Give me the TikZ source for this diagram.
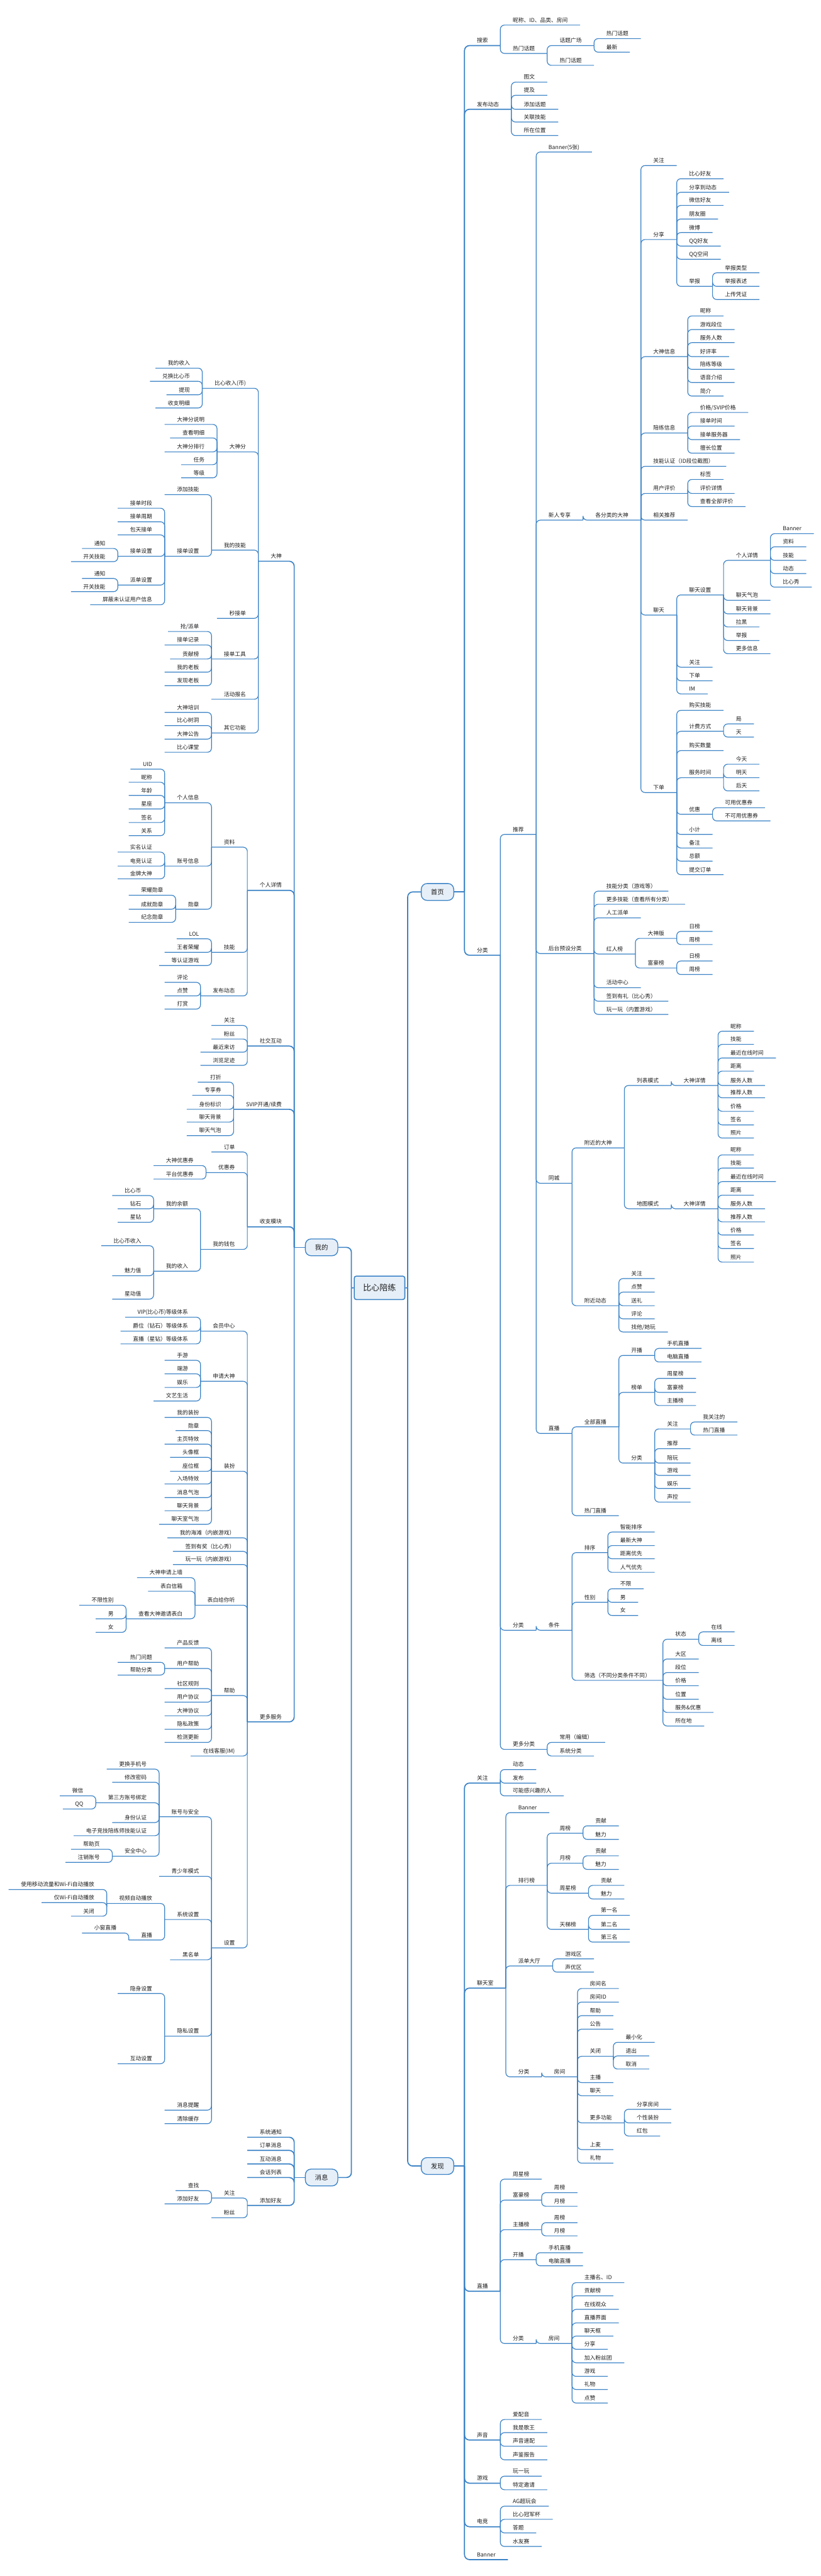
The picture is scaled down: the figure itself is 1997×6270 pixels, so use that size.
\documentclass[tikz,border=0pt]{standalone}
\usepackage{fontspec}
\setmainfont{Noto Sans CJK SC}
\definecolor{lineblue}{RGB}{58,130,198}
\definecolor{boxfill}{RGB}{230,239,248}
\definecolor{txt}{RGB}{30,30,30}
\tikzset{
  tn/.style={inner xsep=30pt, inner ysep=4pt, text height=10pt, text depth=3pt, font=\fontsize{13.4}{15}\selectfont, text=txt},
  cn/.style={draw=lineblue, line width=1.8pt, rounded corners=10pt},
  cn1/.style={draw=lineblue, line width=2.6pt, rounded corners=12pt},
  box/.style={draw=lineblue, fill=boxfill, line width=2pt, rounded corners=14pt, minimum width=79pt, minimum height=41pt, font=\fontsize{16}{18}\selectfont, text=txt},
  rootbox/.style={draw=lineblue, fill=boxfill, line width=2.4pt, rounded corners=5pt, minimum width=123pt, minimum height=57pt, font=\fontsize{20}{22}\selectfont, text=txt},
  hub/.style={inner sep=0pt, minimum size=0pt}
}
\newcommand\addR[5][cn]{\node[tn,anchor=south west] (#2) at (#3.south east |- 0,#4) {#5};\draw[#1] (#3.south east) |- (#2.south east);}
\newcommand\addL[5][cn]{\node[tn,anchor=south east] (#2) at (#3.south west |- 0,#4) {#5};\draw[#1] (#3.south west) |- (#2.south west);}
\begin{document}
\begin{tikzpicture}[x=1pt,y=-1pt]
\fill[white] (0,0) rectangle (1997,6270);
\useasboundingbox (0,0) rectangle (1997,6270);
% ---------- root ----------
\node[rootbox] (root) at (923.5,3134.5) {比心陪练};
\node[box] (shouye) at (1064.5,2171) {首页};
\node[box] (faxian) at (1064.5,5272) {发现};
\node[box] (wode) at (782.5,3036) {我的};
\node[box] (xiaoxi) at (782.5,5300) {消息};
\node[hub] (rtr) at (992,3134.5) {};
\node[hub] (rtl) at (855,3134.5) {};
\draw[cn1] (root.east) -- (rtr) |- (shouye.west);
\draw[cn1] (rtr) |- (faxian.west);
\draw[cn1] (root.west) -- (rtl) |- (wode.east);
\draw[cn1] (rtl) |- (xiaoxi.east);
% ---------- 首页 ----------
\node[hub] (syt) at (1130,2171) {};
\draw[cn1] (shouye.east) -- (syt);
\addR[cn1]{a1}{syt}{111}{搜索}
\addR{a11}{a1}{61}{昵称、ID、品类、房间}
\addR{a12}{a1}{130}{热门话题}
\addR{a121}{a12}{111}{话题广场}
\addR{a1211}{a121}{94}{热门话题}
\addR{a1212}{a121}{127}{最新}
\addR{a122}{a12}{159}{热门话题}
\addR[cn1]{a2}{syt}{266}{发布动态}
\addR{a21}{a2}{200}{图文}
\addR{a22}{a2}{232}{提及}
\addR{a23}{a2}{266}{添加话题}
\addR{a24}{a2}{297}{关联技能}
\addR{a25}{a2}{330}{所在位置}
\addR[cn1]{a3}{syt}{2325}{分类}
\addR{b1}{a3}{2031}{推荐}
\addR{b11}{b1}{370}{Banner(5张)}
\addR{b12}{b1}{1266}{新人专享}
\addR{c}{b12}{1266}{各分类的大神}
\addR{c1}{c}{403}{关注}
\addR{c2}{c}{583}{分享}
\addR{c21}{c2}{435}{比心好友}
\addR{c22}{c2}{468}{分享到动态}
\addR{c23}{c2}{500}{微信好友}
\addR{c24}{c2}{533}{朋友圈}
\addR{c25}{c2}{566}{微博}
\addR{c26}{c2}{599}{QQ好友}
\addR{c27}{c2}{631}{QQ空间}
\addR{c28}{c2}{697}{举报}
\addR{c281}{c28}{664}{举报类型}
\addR{c282}{c28}{697}{举报表述}
\addR{c283}{c28}{729}{上传凭证}
\addR{c3}{c}{868}{大神信息}
\addR{c31}{c3}{769}{昵称}
\addR{c32}{c3}{802}{游戏段位}
\addR{c33}{c3}{834}{服务人数}
\addR{c34}{c3}{868}{好评率}
\addR{c35}{c3}{899}{陪练等级}
\addR{c36}{c3}{931}{语音介绍}
\addR{c37}{c3}{964}{简介}
\addR{c4}{c}{1054}{陪练信息}
\addR{c41}{c4}{1004}{价格/SVIP价格}
\addR{c42}{c4}{1037}{接单时间}
\addR{c43}{c4}{1070}{接单服务器}
\addR{c44}{c4}{1103}{擅长位置}
\addR{c5}{c}{1135}{技能认证（ID段位截图）}
\addR{c6}{c}{1201}{用户评价}
\addR{c61}{c6}{1167}{标签}
\addR{c62}{c6}{1201}{评价详情}
\addR{c63}{c6}{1233}{查看全部评价}
\addR{c7}{c}{1266}{相关推荐}
\addR{c8}{c}{1497}{聊天}
\addR{c81}{c8}{1448}{聊天设置}
\addR{c811}{c81}{1364}{个人详情}
\addR{c8111}{c811}{1299}{Banner}
\addR{c8112}{c811}{1331}{资料}
\addR{c8113}{c811}{1364}{技能}
\addR{c8114}{c811}{1396}{动态}
\addR{c8115}{c811}{1429}{比心秀}
\addR{c812}{c81}{1461}{聊天气泡}
\addR{c813}{c81}{1494}{聊天背景}
\addR{c814}{c81}{1526}{拉黑}
\addR{c815}{c81}{1559}{举报}
\addR{c816}{c81}{1591}{更多信息}
\addR{c82}{c8}{1624}{关注}
\addR{c83}{c8}{1657}{下单}
\addR{c84}{c8}{1689}{IM}
\addR{c9}{c}{1929}{下单}
\addR{c91}{c9}{1729}{购买技能}
\addR{c92}{c9}{1780}{计费方式}
\addR{c921}{c92}{1762}{局}
\addR{c922}{c92}{1794}{天}
\addR{c93}{c9}{1827}{购买数量}
\addR{c94}{c9}{1893}{服务时间}
\addR{c941}{c94}{1860}{今天}
\addR{c942}{c94}{1893}{明天}
\addR{c943}{c94}{1925}{后天}
\addR{c95}{c9}{1982}{优惠}
\addR{c951}{c95}{1966}{可用优惠券}
\addR{c952}{c95}{1998}{不可用优惠券}
\addR{c96}{c9}{2031}{小计}
\addR{c97}{c9}{2064}{备注}
\addR{c98}{c9}{2096}{总额}
\addR{c99}{c9}{2129}{提交订单}
\addR{b13}{b1}{2321}{后台预设分类}
\addR{e1}{b13}{2169}{技能分类（游戏等）}
\addR{e2}{b13}{2201}{更多技能（查看所有分类）}
\addR{e3}{b13}{2234}{人工派单}
\addR{e4}{b13}{2322}{红人榜}
\addR{e41}{e4}{2284}{大神版}
\addR{e411}{e41}{2267}{日榜}
\addR{e412}{e41}{2299}{周榜}
\addR{e42}{e4}{2356}{富豪榜}
\addR{e421}{e42}{2339}{日榜}
\addR{e422}{e42}{2372}{周榜}
\addR{e5}{b13}{2404}{活动中心}
\addR{e6}{b13}{2437}{签到有礼（比心秀）}
\addR{e7}{b13}{2469}{玩一玩（内置游戏）}
\addR{b14}{b1}{2880}{同城}
\addR{f1}{b14}{2794}{附近的大神}
\addR{f11}{f1}{2642}{列表模式}
\addR{f111}{f11}{2642}{大神详情}
\addR{f1111}{f111}{2510}{昵称}
\addR{f1112}{f111}{2542}{技能}
\addR{f1113}{f111}{2575}{最近在线时间}
\addR{f1114}{f111}{2607}{距离}
\addR{f1115}{f111}{2642}{服务人数}
\addR{f1116}{f111}{2672}{推荐人数}
\addR{f1117}{f111}{2705}{价格}
\addR{f1118}{f111}{2738}{签名}
\addR{f1119}{f111}{2770}{照片}
\addR{f12}{f1}{2942}{地图模式}
\addR{f121}{f12}{2942}{大神详情}
\addR{f1211}{f121}{2811}{昵称}
\addR{f1212}{f121}{2843}{技能}
\addR{f1213}{f121}{2876}{最近在线时间}
\addR{f1214}{f121}{2909}{距离}
\addR{f1215}{f121}{2942}{服务人数}
\addR{f1216}{f121}{2974}{推荐人数}
\addR{f1217}{f121}{3006}{价格}
\addR{f1218}{f121}{3039}{签名}
\addR{f1219}{f121}{3072}{照片}
\addR{f2}{b14}{3178}{附近动态}
\addR{f21}{f2}{3112}{关注}
\addR{f22}{f2}{3145}{点赞}
\addR{f23}{f2}{3178}{送礼}
\addR{f24}{f2}{3210}{评论}
\addR{f25}{f2}{3242}{找他/她玩}
\addR{b15}{b1}{3489}{直播}
\addR{g1}{b15}{3473}{全部直播}
\addR{g11}{g1}{3299}{开播}
\addR{g111}{g11}{3282}{手机直播}
\addR{g112}{g11}{3315}{电脑直播}
\addR{g12}{g1}{3389}{榜单}
\addR{g121}{g12}{3355}{周星榜}
\addR{g122}{g12}{3389}{富豪榜}
\addR{g123}{g12}{3421}{主播榜}
\addR{g13}{g1}{3561}{分类}
\addR{g131}{g13}{3478}{关注}
\addR{g1311}{g131}{3461}{我关注的}
\addR{g1312}{g131}{3493}{热门直播}
\addR{g132}{g13}{3526}{推荐}
\addR{g133}{g13}{3561}{陪玩}
\addR{g134}{g13}{3591}{游戏}
\addR{g135}{g13}{3623}{娱乐}
\addR{g136}{g13}{3656}{声控}
\addR{g2}{b15}{3689}{热门直播}
\addR{b2}{a3}{3968}{分类}
\addR{b21}{b2}{3968}{条件}
\addR{h1}{b21}{3779}{排序}
\addR{h11}{h1}{3729}{智能排序}
\addR{h12}{h1}{3762}{最新大神}
\addR{h13}{h1}{3794}{距离优先}
\addR{h14}{h1}{3827}{人气优先}
\addR{h2}{b21}{3900}{性别}
\addR{h21}{h2}{3867}{不限}
\addR{h22}{h2}{3900}{男}
\addR{h23}{h2}{3932}{女}
\addR{h3}{b21}{4090}{筛选（不同分类条件不同）}
\addR{h31}{h3}{3990}{状态}
\addR{h311}{h31}{3972}{在线}
\addR{h312}{h31}{4005}{离线}
\addR{h32}{h3}{4038}{大区}
\addR{h33}{h3}{4071}{段位}
\addR{h34}{h3}{4103}{价格}
\addR{h35}{h3}{4136}{位置}
\addR{h36}{h3}{4168}{服务\&优惠}
\addR{h37}{h3}{4201}{所在地}
\addR{b3}{a3}{4258}{更多分类}
\addR{b31}{b3}{4241}{常用（编辑）}
\addR{b32}{b3}{4274}{系统分类}
% ---------- 发现 ----------
\node[hub] (fxt) at (1130,5272) {};
\draw[cn1] (faxian.east) -- (fxt);
\addR[cn1]{k1}{fxt}{4340}{关注}
\addR{k11}{k1}{4307}{动态}
\addR{k12}{k1}{4340}{发布}
\addR{k13}{k1}{4371}{可能感兴趣的人}
\addR[cn1]{k2}{fxt}{4839}{聊天室}
\addR{k21}{k2}{4412}{Banner}
\addR{k22}{k2}{4589}{排行榜}
\addR{k221}{k22}{4462}{周榜}
\addR{k2211}{k221}{4444}{贡献}
\addR{k2212}{k221}{4477}{魅力}
\addR{k222}{k22}{4535}{月榜}
\addR{k2221}{k222}{4517}{贡献}
\addR{k2222}{k222}{4550}{魅力}
\addR{k223}{k22}{4608}{周星榜}
\addR{k2231}{k223}{4589}{贡献}
\addR{k2232}{k223}{4622}{魅力}
\addR{k224}{k22}{4696}{天梯榜}
\addR{k2241}{k224}{4662}{第一名}
\addR{k2242}{k224}{4696}{第二名}
\addR{k2243}{k224}{4727}{第三名}
\addR{k23}{k2}{4785}{派单大厅}
\addR{k231}{k23}{4768}{游戏区}
\addR{k232}{k23}{4800}{声优区}
\addR{k24}{k2}{5055}{分类}
\addR{k241}{k24}{5055}{房间}
\addR{k2411}{k241}{4840}{房间名}
\addR{k2412}{k241}{4873}{房间ID}
\addR{k2413}{k241}{4906}{帮助}
\addR{k2414}{k241}{4939}{公告}
\addR{k2415}{k241}{5005}{关闭}
\addR{k24151}{k2415}{4971}{最小化}
\addR{k24152}{k2415}{5004}{退出}
\addR{k24153}{k2415}{5036}{取消}
\addR{k2416}{k241}{5069}{主播}
\addR{k2417}{k241}{5101}{聊天}
\addR{k2418}{k241}{5167}{更多功能}
\addR{k24181}{k2418}{5134}{分享房间}
\addR{k24182}{k2418}{5167}{个性装扮}
\addR{k24183}{k2418}{5199}{红包}
\addR{k2419}{k241}{5232}{上麦}
\addR{k2410}{k241}{5265}{礼物}
\addR[cn1]{k3}{fxt}{5577}{直播}
\addR{k31}{k3}{5304}{周星榜}
\addR{k32}{k3}{5355}{富豪榜}
\addR{k321}{k32}{5337}{周榜}
\addR{k322}{k32}{5370}{月榜}
\addR{k33}{k3}{5427}{主播榜}
\addR{k331}{k33}{5410}{周榜}
\addR{k332}{k33}{5442}{月榜}
\addR{k34}{k3}{5500}{开播}
\addR{k341}{k34}{5483}{手机直播}
\addR{k342}{k34}{5515}{电脑直播}
\addR{k35}{k3}{5704}{分类}
\addR{k351}{k35}{5704}{房间}
\addR{k3511}{k351}{5556}{主播名、ID}
\addR{k3512}{k351}{5588}{贡献榜}
\addR{k3513}{k351}{5621}{在线观众}
\addR{k3514}{k351}{5654}{直播界面}
\addR{k3515}{k351}{5686}{聊天框}
\addR{k3516}{k351}{5718}{分享}
\addR{k3517}{k351}{5751}{加入粉丝团}
\addR{k3518}{k351}{5784}{游戏}
\addR{k3519}{k351}{5816}{礼物}
\addR{k3510}{k351}{5849}{点赞}
\addR[cn1]{k4}{fxt}{5939}{声音}
\addR{k41}{k4}{5889}{爱配音}
\addR{k42}{k4}{5921}{我是歌王}
\addR{k43}{k4}{5954}{声音速配}
\addR{k44}{k4}{5987}{声鉴报告}
\addR[cn1]{k5}{fxt}{6044}{游戏}
\addR{k51}{k5}{6027}{玩一玩}
\addR{k52}{k5}{6060}{特定邀请}
\addR[cn1]{k6}{fxt}{6150}{电竞}
\addR{k61}{k6}{6100}{AG超玩会}
\addR{k62}{k6}{6132}{比心冠军杯}
\addR{k63}{k6}{6165}{答题}
\addR{k64}{k6}{6198}{水友赛}
\addR[cn1]{k7}{fxt}{6230}{Banner}
% ---------- 我的 ----------
\node[hub] (wdt) at (716,3036) {};
\draw[cn1] (wode.west) -- (wdt);
\addL[cn1]{m1}{wdt}{1366}{大神}
\addL{m11}{m1}{945}{比心收入(币)}
\addL{m111}{m11}{896}{我的收入}
\addL{m112}{m11}{928}{兑换比心币}
\addL{m113}{m11}{961}{提现}
\addL{m114}{m11}{993}{收支明细}
\addL{m12}{m1}{1100}{大神分}
\addL{m121}{m12}{1033}{大神分说明}
\addL{m122}{m12}{1066}{查看明细}
\addL{m123}{m12}{1100}{大神分排行}
\addL{m124}{m12}{1131}{任务}
\addL{m125}{m12}{1163}{等级}
\addL{m13}{m1}{1339}{我的技能}
\addL{m131}{m13}{1204}{添加技能}
\addL{m132}{m13}{1354}{接单设置}
\addL{m1321}{m132}{1237}{接单时段}
\addL{m1322}{m132}{1270}{接单周期}
\addL{m1323}{m132}{1302}{包天接单}
\addL{m1324}{m132}{1354}{接单设置}
\addL{m13241}{m1324}{1335}{通知}
\addL{m13242}{m1324}{1367}{开关技能}
\addL{m1325}{m132}{1424}{派单设置}
\addL{m13251}{m1325}{1408}{通知}
\addL{m13252}{m1325}{1440}{开关技能}
\addL{m1326}{m132}{1472}{屏蔽未认证用户信息}
\addL{m14}{m1}{1505}{秒接单}
\addL{m15}{m1}{1604}{接单工具}
\addL{m151}{m15}{1537}{抢/派单}
\addL{m152}{m15}{1570}{接单记录}
\addL{m153}{m15}{1604}{贡献榜}
\addL{m154}{m15}{1636}{我的老板}
\addL{m155}{m15}{1669}{发现老板}
\addL{m16}{m1}{1702}{活动报名}
\addL{m17}{m1}{1784}{其它功能}
\addL{m171}{m17}{1734}{大神培训}
\addL{m172}{m17}{1766}{比心树洞}
\addL{m173}{m17}{1799}{大神公告}
\addL{m174}{m17}{1831}{比心课堂}
\addL[cn1]{m2}{wdt}{2167}{个人详情}
\addL{m21}{m2}{2062}{资料}
\addL{m211}{m21}{1954}{个人信息}
\addL{m2111}{m211}{1872}{UID}
\addL{m2112}{m211}{1904}{昵称}
\addL{m2113}{m211}{1936}{年龄}
\addL{m2114}{m211}{1969}{星座}
\addL{m2115}{m211}{2002}{签名}
\addL{m2116}{m211}{2034}{关系}
\addL{m212}{m21}{2108}{账号信息}
\addL{m2121}{m212}{2074}{实名认证}
\addL{m2122}{m212}{2108}{电竞认证}
\addL{m2123}{m212}{2139}{金牌大神}
\addL{m213}{m21}{2213}{勋章}
\addL{m2131}{m213}{2179}{荣耀勋章}
\addL{m2132}{m213}{2213}{成就勋章}
\addL{m2133}{m213}{2245}{纪念勋章}
\addL{m22}{m2}{2318}{技能}
\addL{m221}{m22}{2285}{LOL}
\addL{m222}{m22}{2318}{王者荣耀}
\addL{m223}{m22}{2350}{等认证游戏}
\addL{m23}{m2}{2424}{发布动态}
\addL{m231}{m23}{2391}{评论}
\addL{m232}{m23}{2424}{点赞}
\addL{m233}{m23}{2456}{打赏}
\addL[cn1]{m3}{wdt}{2546}{社交互动}
\addL{m31}{m3}{2496}{关注}
\addL{m32}{m3}{2529}{粉丝}
\addL{m33}{m3}{2561}{最近来访}
\addL{m34}{m3}{2593}{浏览足迹}
\addL[cn1]{m4}{wdt}{2700}{SVIP开通/续费}
\addL{m41}{m4}{2634}{打折}
\addL{m42}{m4}{2666}{专享券}
\addL{m43}{m4}{2700}{身份标识}
\addL{m44}{m4}{2731}{聊天背景}
\addL{m45}{m4}{2764}{聊天气泡}
\addL[cn1]{m5}{wdt}{2986}{收支模块}
\addL{m51}{m5}{2804}{订单}
\addL{m52}{m5}{2854}{优惠券}
\addL{m521}{m52}{2837}{大神优惠券}
\addL{m522}{m52}{2870}{平台优惠券}
\addL{m53}{m5}{3041}{我的钱包}
\addL{m531}{m53}{2942}{我的余额}
\addL{m5311}{m531}{2910}{比心币}
\addL{m5312}{m531}{2942}{钻石}
\addL{m5313}{m531}{2975}{星钻}
\addL{m532}{m53}{3094}{我的收入}
\addL{m5321}{m532}{3032}{比心币收入}
\addL{m5322}{m532}{3105}{魅力值}
\addL{m5323}{m532}{3162}{星动值}
\addL[cn1]{m6}{wdt}{4191}{更多服务}
\addL{m61}{m6}{3240}{会员中心}
\addL{m611}{m61}{3206}{VIP(比心币)等级体系}
\addL{m612}{m61}{3240}{爵位（钻石）等级体系}
\addL{m613}{m61}{3271}{直播（星钻）等级体系}
\addL{m62}{m6}{3362}{申请大神}
\addL{m621}{m62}{3311}{手游}
\addL{m622}{m62}{3344}{端游}
\addL{m623}{m62}{3377}{娱乐}
\addL{m624}{m62}{3410}{文艺生活}
\addL{m63}{m6}{3581}{装扮}
\addL{m631}{m63}{3450}{我的装扮}
\addL{m632}{m63}{3482}{勋章}
\addL{m633}{m63}{3515}{主页特效}
\addL{m634}{m63}{3547}{头像框}
\addL{m635}{m63}{3581}{座位框}
\addL{m636}{m63}{3612}{入场特效}
\addL{m637}{m63}{3645}{消息气泡}
\addL{m638}{m63}{3677}{聊天背景}
\addL{m639}{m63}{3710}{聊天室气泡}
\addL{m64}{m6}{3743}{我的海滩（内嵌游戏）}
\addL{m65}{m6}{3776}{签到有奖（比心秀）}
\addL{m66}{m6}{3808}{玩一玩（内嵌游戏）}
\addL{m67}{m6}{3907}{表白给你听}
\addL{m671}{m67}{3840}{大神申请上墙}
\addL{m672}{m67}{3873}{表白信箱}
\addL{m673}{m67}{3940}{查看大神邀请表白}
\addL{m6731}{m673}{3907}{不限性别}
\addL{m6732}{m673}{3940}{男}
\addL{m6733}{m673}{3973}{女}
\addL{m68}{m6}{4127}{帮助}
\addL{m681}{m68}{4011}{产品反馈}
\addL{m682}{m68}{4061}{用户帮助}
\addL{m6821}{m682}{4046}{热门问题}
\addL{m6822}{m682}{4077}{帮助分类}
\addL{m683}{m68}{4110}{社区规则}
\addL{m684}{m68}{4143}{用户协议}
\addL{m685}{m68}{4176}{大神协议}
\addL{m686}{m68}{4209}{隐私政策}
\addL{m687}{m68}{4241}{检测更新}
\addL{m69}{m6}{4274}{在线客服(IM)}
\addL{m60}{m6}{4741}{设置}
\addL{m601}{m60}{4422}{账号与安全}
\addL{m6011}{m601}{4306}{更换手机号}
\addL{m6012}{m601}{4338}{修改密码}
\addL{m6013}{m601}{4388}{第三方账号绑定}
\addL{m60131}{m6013}{4371}{微信}
\addL{m60132}{m6013}{4403}{QQ}
\addL{m6014}{m601}{4436}{身份认证}
\addL{m6015}{m601}{4468}{电子竞技陪练师技能认证}
\addL{m6016}{m601}{4518}{安全中心}
\addL{m60161}{m6016}{4501}{帮助页}
\addL{m60162}{m6016}{4533}{注销账号}
\addL{m602}{m60}{4567}{青少年模式}
\addL{m603}{m60}{4672}{系统设置}
\addL{m6031}{m603}{4633}{视频自动播放}
\addL{m60311}{m6031}{4599}{使用移动流量和Wi-Fi自动播放}
\addL{m60312}{m6031}{4631}{仅Wi-Fi自动播放}
\addL{m60313}{m6031}{4664}{关闭}
\addL{m6032}{m603}{4722}{直播}
\addL{m60321}{m6032}{4705}{小窗直播}
\addL{m604}{m60}{4770}{黑名单}
\addL{m605}{m60}{4956}{隐私设置}
\addL{m6051}{m605}{4852}{隐身设置}
\addL{m6052}{m605}{5023}{互动设置}
\addL{m606}{m60}{5136}{消息提醒}
\addL{m607}{m60}{5169}{清除缓存}
% ---------- 消息 ----------
\node[hub] (xxt) at (716,5300) {};
\draw[cn1] (xiaoxi.west) -- (xxt);
\addL[cn1]{n1}{xxt}{5202}{系统通知}
\addL[cn1]{n2}{xxt}{5234}{订单消息}
\addL[cn1]{n3}{xxt}{5267}{互动消息}
\addL[cn1]{n4}{xxt}{5300}{会话列表}
\addL[cn1]{n5}{xxt}{5368}{添加好友}
\addL{n51}{n5}{5350}{关注}
\addL{n511}{n51}{5332}{查找}
\addL{n512}{n51}{5364}{添加好友}
\addL{n52}{n5}{5398}{粉丝}
\end{tikzpicture}
\end{document}
